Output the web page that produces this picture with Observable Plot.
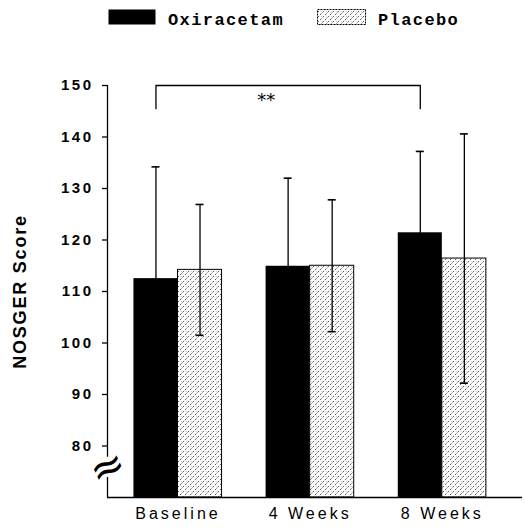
<!DOCTYPE html>
<html>
<head>
<meta charset="utf-8">
<script src="https://cdn.jsdelivr.net/npm/d3@7"></script>
<script src="https://cdn.jsdelivr.net/npm/@observablehq/plot@0.6"></script>
<style>
  body { margin: 0; background: #fff; }
  #legend { display: block; }
  g[aria-label="y-axis tick label"] text { letter-spacing: 2.5px; }
  g[aria-label="x-axis tick label"] text { letter-spacing: 3px; }
</style>
</head>
<body>
<svg id="legend" width="525" height="40"></svg>
<div id="chart"></div>
<script>
// ---- data ----
const categories = ["Baseline", "4 Weeks", "8 Weeks"];
const seriesNames = ["Oxiracetam", "Placebo"];
const oxiracetamMean = [112.5, 114.9, 121.4];
const oxiracetamSD = [21.7, 17.1, 15.8];
const placeboMean = [114.2, 115.0, 116.4];
const placeboSD = [12.7, 12.8, 24.2];
const yTicks = [80, 90, 100, 110, 120, 130, 140, 150];
const significance = [{from: "Baseline", to: "8 Weeks", series: "Oxiracetam", label: "**"}];
const yLabel = "NOSGER Score";

// ---- scale settings ----
const yDomain = [70, 150];
const xDomain = [-0.6, 8.82];
const groupStride = 3;          // two bars plus a one-bar gap
const breakLow = 73.9, breakHigh = 77.8;
const bracketDrop = 4.5;

const seriesValues = [[oxiracetamMean, oxiracetamSD], [placeboMean, placeboSD]];
const rows = [];
categories.forEach((c, gi) => {
  seriesValues.forEach(([m, s], si) => {
    rows.push({category: c, series: seriesNames[si], mean: m[gi], sd: s[gi], pos: gi * groupStride + si});
  });
});

// ---- legend (with pattern definition) ----
const legend = d3.select("#legend");
const defs = legend.append("defs");
const pat = defs.append("pattern").attr("id", "placeboPattern")
  .attr("patternUnits", "userSpaceOnUse").attr("width", 5).attr("height", 5);
pat.append("rect").attr("width", 5).attr("height", 5).attr("fill", "#fff");
pat.append("path").attr("d", "M0,5L5,0M-1,1L1,-1M4,6L6,4")
  .attr("stroke", "#333").attr("stroke-width", 0.8).attr("stroke-dasharray", "2.2 1.3");
pat.append("circle").attr("cx", 1.2).attr("cy", 1.4).attr("r", 0.45).attr("fill", "#777");

const legendItems = [
  {name: seriesNames[0], x: 108, w: 47, fill: "#000", stroke: "none"},
  {name: seriesNames[1], x: 317, w: 48, fill: "url(#placeboPattern)", stroke: "#000"}
];
legendItems.forEach(it => {
  legend.append("rect").attr("x", it.x + 0.5).attr("y", 9.5).attr("width", it.w).attr("height", 15)
    .attr("fill", it.fill).attr("stroke", it.stroke).attr("stroke-width", 1)
    .attr("stroke-dasharray", it.stroke === "none" ? null : "2 1");
  legend.append("text").attr("x", it.x + it.w + 13).attr("y", 25)
    .attr("font-family", "'Liberation Mono', monospace").attr("font-weight", "bold")
    .attr("font-size", 17).attr("letter-spacing", "1.4px").attr("fill", "#000")
    .text(it.name);
});

// ---- significance bracket ----
const posOf = (cat, ser) => rows.find(r => r.category === cat && r.series === ser).pos + 0.5;
const bracketRows = significance.flatMap(s => {
  const a = posOf(s.from, s.series), b = posOf(s.to, s.series);
  return [
    {x: a, y: yDomain[1] - bracketDrop}, {x: a, y: yDomain[1]},
    {x: b, y: yDomain[1]}, {x: b, y: yDomain[1] - bracketDrop}
  ];
});
const sigLabels = significance.map(s => ({label: s.label, x: (posOf(s.from, s.series) + posOf(s.to, s.series)) / 2}));

const chart = Plot.plot({
  width: 525,
  height: 490,
  marginLeft: 107,
  marginRight: 3,
  marginTop: 45,
  marginBottom: 33,
  x: {domain: xDomain},
  y: {domain: yDomain},
  style: {background: "#fff", fontFamily: "'Liberation Sans', Arial, sans-serif", color: "#000"},
  marks: [
    // bars
    Plot.rectY(rows.filter(r => r.series === seriesNames[0]), {
      x1: "pos", x2: d => d.pos + 1, y1: yDomain[0], y2: "mean", fill: "#000"
    }),
    Plot.rectY(rows.filter(r => r.series === seriesNames[1]), {
      x1: "pos", x2: d => d.pos + 1, y1: yDomain[0], y2: "mean",
      fill: "url(#placeboPattern)", stroke: "#000", strokeWidth: 1
    }),
    // error bars
    Plot.ruleX(rows, {x: d => d.pos + 0.5, y1: d => d.mean - d.sd, y2: d => d.mean + d.sd, stroke: "#000", strokeWidth: 1.3}),
    Plot.ruleY(rows, {y: d => d.mean + d.sd, x1: d => d.pos + 0.5, x2: d => d.pos + 0.5, insetLeft: -4, insetRight: -4, stroke: "#000", strokeWidth: 1.6}),
    Plot.ruleY(rows, {y: d => d.mean - d.sd, x1: d => d.pos + 0.5, x2: d => d.pos + 0.5, insetLeft: -4, insetRight: -4, stroke: "#000", strokeWidth: 1.6}),
    // axes lines
    Plot.ruleY([yDomain[0]], {stroke: "#000", strokeWidth: 1.5}),
    Plot.ruleX([{y1: yDomain[0], y2: breakLow}, {y1: breakHigh, y2: yDomain[1]}], {x: xDomain[0], y1: "y1", y2: "y2", stroke: "#000", strokeWidth: 1.3}),
    Plot.text([(breakLow + breakHigh) / 2], {x: xDomain[0], y: d => d, text: () => "\u2248", fontSize: 42, rotate: -25, fontFamily: "DejaVu Sans", fill: "#000"}),
    Plot.axisY({ticks: yTicks, tickSize: 5, tickPadding: 9, fontSize: 15, fontWeight: "bold", label: null, strokeWidth: 1.3}),
    Plot.axisX({
      ticks: categories.map((_, i) => i * groupStride + 1),
      tickFormat: t => categories[Math.round((t - 1) / groupStride)],
      tickSize: 0, tickPadding: 10, fontSize: 16, label: null
    }),
    Plot.text([yLabel], {x: xDomain[0], y: (yDomain[0] + yDomain[1]) / 2, text: d => d, rotate: -90, dx: -87, fontSize: 18, fontWeight: "bold"}),
    // significance
    Plot.line(bracketRows, {x: "x", y: "y", stroke: "#000", strokeWidth: 1.3}),
    Plot.text(sigLabels, {x: "x", y: yDomain[1], text: "label", dx: -22, dy: 15, fontSize: 18, fontFamily: "DejaVu Sans"})
  ]
});
d3.select(chart).selectAll("text").filter(function () { return this.textContent === yLabel; })
  .style("letter-spacing", "1.8px");
document.getElementById("chart").appendChild(chart);
</script>
</body>
</html>
